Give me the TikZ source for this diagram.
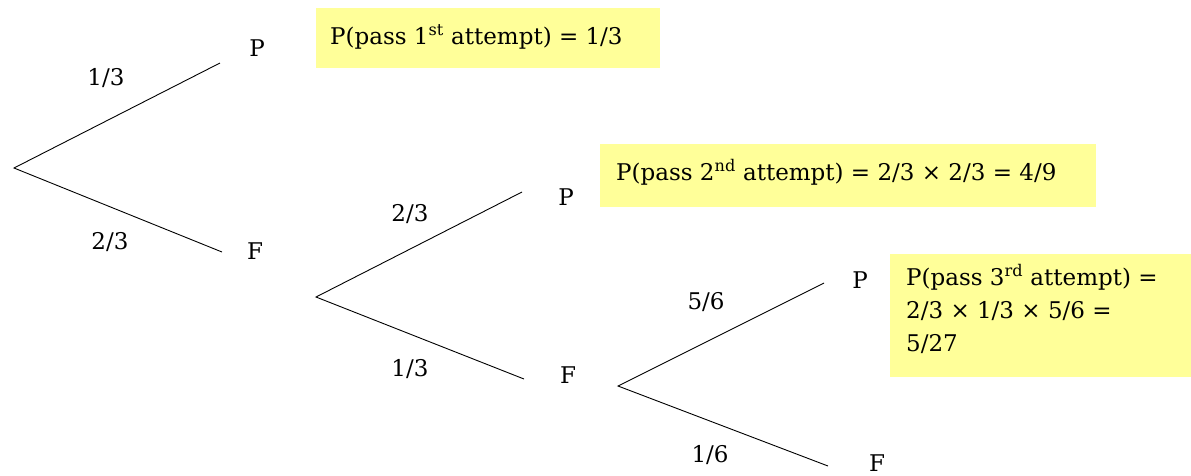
\documentclass[tikz,border=0pt]{standalone}
\usepackage{fontspec}
\setmainfont{DejaVu Serif}
\definecolor{boxyellow}{RGB}{255,255,153}
\begin{document}
\begin{tikzpicture}[x=1pt,y=-1pt,
  branch/.style={draw=black,line width=0.9pt},
  lbl/.style={inner sep=0pt,font=\fontsize{23}{28}\selectfont},
  infotext/.style={inner sep=0pt,align=left,font=\fontsize{23}{33}\selectfont}]
\useasboundingbox[fill=white] (0,0) rectangle (1191,475);
% coordinates of the tree
\coordinate (r1) at (14,168);
\coordinate (e1p) at (220,63);
\coordinate (e1f) at (222,252);
\coordinate (r2) at (316,297);
\coordinate (e2p) at (522,192);
\coordinate (e2f) at (524,379);
\coordinate (r3) at (618,386);
\coordinate (e3p) at (824,283);
\coordinate (e3f) at (828,466);
% branches
\draw[branch] (e1p) -- (r1) -- (e1f);
\draw[branch] (e2p) -- (r2) -- (e2f);
\draw[branch] (e3p) -- (r3) -- (e3f);
% outcome labels
\node[lbl] (p1) at (257,48) {P};
\node[lbl] (f1) at (255,251) {F};
\node[lbl] (p2) at (566,197) {P};
\node[lbl] (f2) at (568,375) {F};
\node[lbl] (p3) at (860,280) {P};
\node[lbl] (f3) at (877,463) {F};
% probabilities
\node[lbl] (q1) at (106,78) {1/3};
\node[lbl] (q2) at (110,242) {2/3};
\node[lbl] (q3) at (410,214) {2/3};
\node[lbl] (q4) at (410,369) {1/3};
\node[lbl] (q5) at (706,302) {5/6};
\node[lbl] (q6) at (710,455) {1/6};
% boxes
\fill[boxyellow] (316,8) rectangle (660,68);
\node[infotext,anchor=west] (b1) at (330,37) {P(pass 1\textsuperscript{st} attempt) = 1/3};
\fill[boxyellow] (600,144) rectangle (1096,207);
\node[infotext,anchor=west] (b2) at (616,172) {P(pass 2\textsuperscript{nd} attempt) = 2/3 × 2/3 = 4/9};
\fill[boxyellow] (890,254) rectangle (1191,377);
\node[infotext,anchor=north west] (b3) at (906,264) {P(pass 3\textsuperscript{rd} attempt) =\\2/3 × 1/3 × 5/6 =\\5/27};
\end{tikzpicture}
\end{document}
